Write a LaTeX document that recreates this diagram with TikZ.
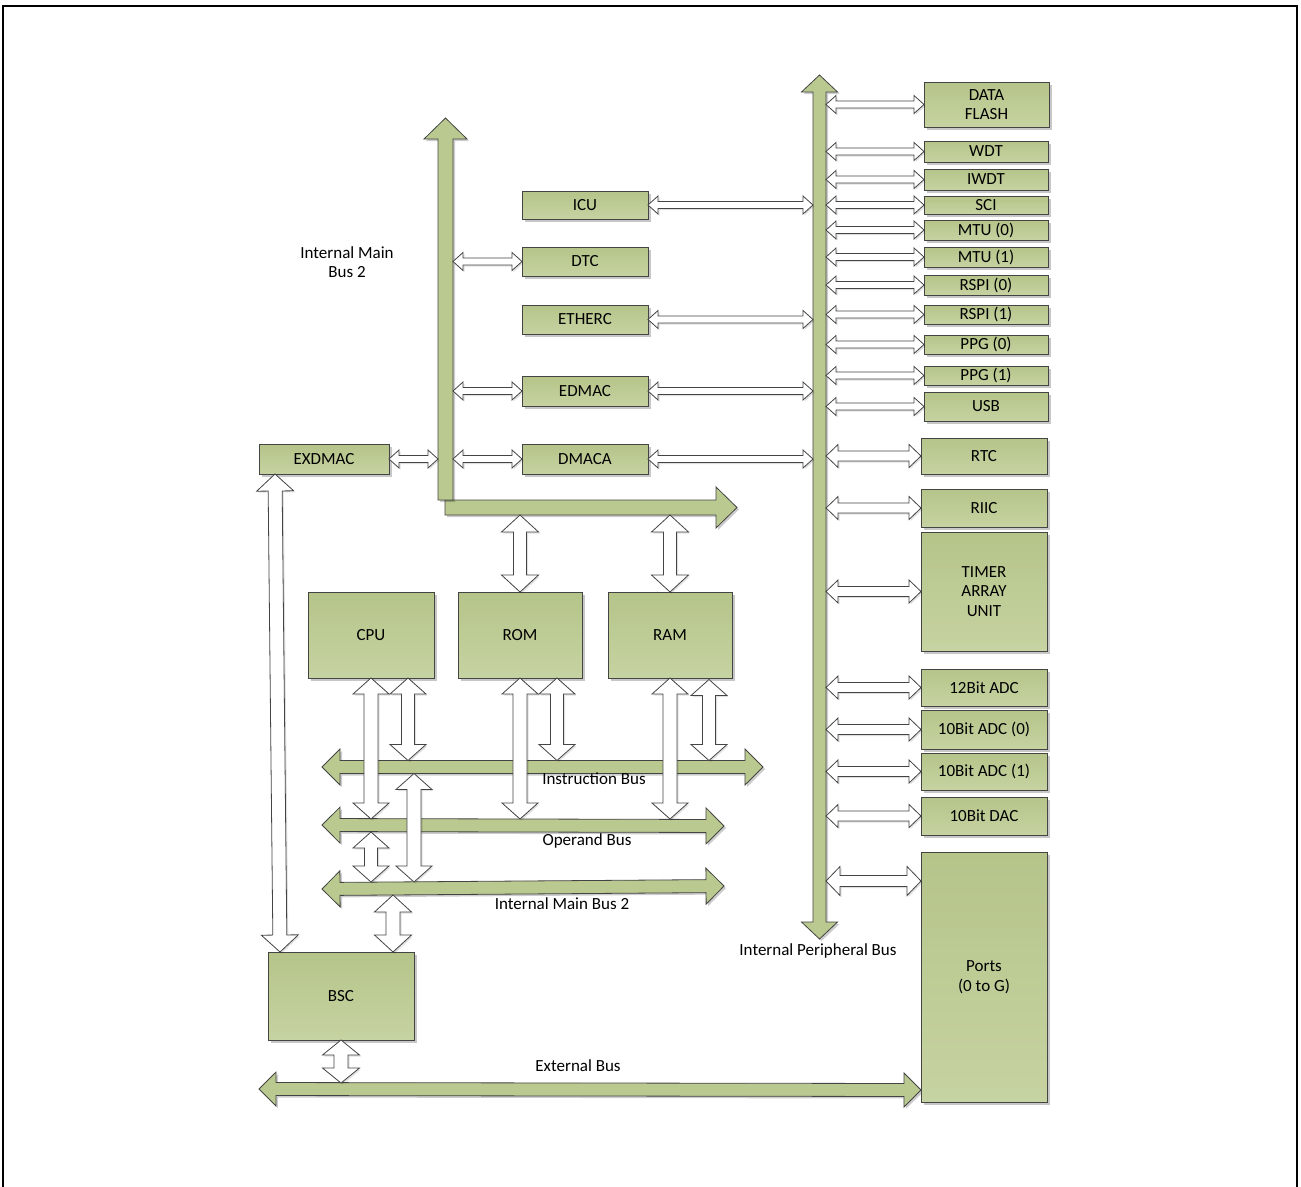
\documentclass[tikz,border=0pt]{standalone}
\usepackage{fontspec}
\setmainfont{Carlito}
\usetikzlibrary{calc,shadows}
\definecolor{bgA}{RGB}{181,196,137}
\definecolor{bgB}{RGB}{198,211,162}
\definecolor{busg}{RGB}{186,201,143}
\definecolor{edgec}{RGB}{68,68,68}
\newcommand\dar[6]{%
  \coordinate (dA) at (#2); \coordinate (dB) at (#3);
  \coordinate (dP) at ($(dA)!#6!(dB)$);
  \coordinate (dQ) at ($(dB)!#6!(dA)$);
  \filldraw[#1] (dA) -- ($(dP)!#5!90:(dB)$) -- ($(dP)!#4!90:(dB)$) -- ($(dQ)!#4!-90:(dA)$) -- ($(dQ)!#5!-90:(dA)$) -- (dB) -- ($(dQ)!#5!90:(dA)$) -- ($(dQ)!#4!90:(dA)$) -- ($(dP)!#4!-90:(dB)$) -- ($(dP)!#5!-90:(dB)$) -- cycle;}
\newcommand\sar[6]{%
  \coordinate (dA) at (#2); \coordinate (dB) at (#3);
  \coordinate (dQ) at ($(dB)!#6!(dA)$);
  \filldraw[#1] ($(dA)!#4!90:(dB)$) -- ($(dQ)!#4!-90:(dA)$) -- ($(dQ)!#5!-90:(dA)$) -- (dB) -- ($(dQ)!#5!90:(dA)$) -- ($(dQ)!#4!90:(dA)$) -- ($(dA)!#4!-90:(dB)$) -- cycle;}
\tikzset{
  blk/.style={draw=edgec, line width=1pt, top color=bgA, bottom color=bgB, inner sep=0pt, outer sep=0pt, align=center,
    font=\fontsize{17}{19.5}\selectfont,
    drop shadow={shadow xshift=2.5pt, shadow yshift=-2.5pt, opacity=0.22, fill=black}},
  bus/.style={fill=busg, draw=edgec, line width=0.8pt,
    drop shadow={shadow xshift=2pt, shadow yshift=-2pt, opacity=0.2, fill=black}},
  hol/.style={fill=white, draw=edgec, line width=0.8pt,
    drop shadow={shadow xshift=1.5pt, shadow yshift=-1.5pt, opacity=0.12, fill=black}},
  lbl/.style={font=\fontsize{17}{19.5}\selectfont, inner sep=0pt, anchor=base},
}
\begin{document}
\begin{tikzpicture}[x=1pt,y=-1pt]
\useasboundingbox (0,0) rectangle (1301,1186);
\draw[line width=2.5pt] (3,1200) -- (3,6) -- (1297,6) -- (1297,1200);

% bus geometry
\coordinate (pbT) at (819.5,75);
\coordinate (pbB) at (819.5,939);
\coordinate (pbL) at (813,0);
\coordinate (pbR) at (826,0);
\coordinate (mbT) at (445.5,118);
\coordinate (mbB) at (445.5,500);
\coordinate (mbL) at (438,0);
\coordinate (mbR) at (453,0);
\coordinate (hbS) at (445,507.5);
\coordinate (hbE) at (737,507.5);
\coordinate (hbB) at (0,515);
\coordinate (insW) at (322,767);
\coordinate (insE) at (763,767);
\coordinate (insT) at (0,760.5);
\coordinate (insB) at (0,773.5);
\coordinate (opW) at (322,825);
\coordinate (opE) at (724,826);
\coordinate (opT) at (0,819);
\coordinate (opB) at (0,832);
\coordinate (m2W) at (322,889);
\coordinate (m2E) at (724,886);
\coordinate (m2T) at (0,882);
\coordinate (m2B) at (0,895);
\coordinate (exW) at (259,1089);
\coordinate (exE) at (921,1090);
\coordinate (exT) at (0,1083);

% green buses
\dar{bus}{pbT}{pbB}{6.5pt}{18pt}{17pt}
\sar{bus}{hbS}{hbE}{7.5pt}{20.5pt}{21pt}
\sar{bus}{mbB}{mbT}{7.5pt}{21.5pt}{21pt}
\dar{bus}{insW}{insE}{6.5pt}{18pt}{18pt}
\dar{bus}{opW}{opE}{6.5pt}{18pt}{18pt}
\dar{bus}{m2W}{m2E}{6.5pt}{18pt}{18pt}
\dar{bus}{exW}{exE}{6.5pt}{17pt}{17pt}

% peripheral blocks
\node[blk, minimum width=125pt, minimum height=45pt] (dataflash) at (986.5,104.5) {DATA\\FLASH};
\node[blk, minimum width=124pt, minimum height=21pt] (wdt) at (986,151.5) {WDT};
\node[blk, minimum width=124pt, minimum height=21pt] (iwdt) at (986,179.5) {IWDT};
\node[blk, minimum width=124pt, minimum height=18pt] (sci) at (986,205) {SCI};
\node[blk, minimum width=124pt, minimum height=20pt] (mtu0) at (986,230) {MTU (0)};
\node[blk, minimum width=124pt, minimum height=20pt] (mtu1) at (986,257) {MTU (1)};
\node[blk, minimum width=124pt, minimum height=20pt] (rspi0) at (986,285) {RSPI (0)};
\node[blk, minimum width=124pt, minimum height=19pt] (rspi1) at (986,314.5) {RSPI (1)};
\node[blk, minimum width=124pt, minimum height=19pt] (ppg0) at (986,344.5) {PPG (0)};
\node[blk, minimum width=124pt, minimum height=19pt] (ppg1) at (986,375.5) {PPG (1)};
\node[blk, minimum width=124pt, minimum height=29pt] (usb) at (986,406.5) {USB};
\node[blk, minimum width=126pt, minimum height=36pt] (rtc) at (984,456) {RTC};
\node[blk, minimum width=126pt, minimum height=38pt] (riic) at (984,508) {RIIC};
\node[blk, minimum width=126pt, minimum height=119pt] (timer) at (984,591.5) {TIMER\\ARRAY\\UNIT};
\node[blk, minimum width=126pt, minimum height=37pt] (adc12) at (984,687.5) {12Bit ADC};
\node[blk, minimum width=126pt, minimum height=39pt] (adc10a) at (984,729.5) {10Bit ADC (0)};
\node[blk, minimum width=126pt, minimum height=37pt] (adc10b) at (984,771.5) {10Bit ADC (1)};
\node[blk, minimum width=126pt, minimum height=38pt] (dac) at (984,816) {10Bit DAC};
\node[blk, minimum width=126pt, minimum height=250pt] (ports) at (984,977) {Ports\\(0 to G)};

% middle blocks
\node[blk, minimum width=126pt, minimum height=28pt] (icu) at (585,205) {ICU};
\node[blk, minimum width=126pt, minimum height=29pt] (dtc) at (585,261.5) {DTC};
\node[blk, minimum width=126pt, minimum height=29pt] (etherc) at (585,319.5) {ETHERC};
\node[blk, minimum width=126pt, minimum height=30pt] (edmac) at (585,391) {EDMAC};
\node[blk, minimum width=126pt, minimum height=30pt] (dmaca) at (585,459) {DMACA};
\node[blk, minimum width=130pt, minimum height=30pt] (exdmac) at (324,459) {EXDMAC};
\node[blk, minimum width=126pt, minimum height=86pt] (cpu) at (371,635) {CPU};
\node[blk, minimum width=124pt, minimum height=86pt] (rom) at (520,635) {ROM};
\node[blk, minimum width=124pt, minimum height=86pt] (ram) at (670,635) {RAM};
\node[blk, minimum width=146pt, minimum height=88pt] (bsc) at (341,996) {BSC};

% peripheral connectors
\foreach \n in {dataflash,wdt,iwdt,sci,mtu0,mtu1,rspi0,rspi1,ppg0,ppg1,usb}{
  \dar{hol}{\n.west -| pbR}{\n.west}{3.5pt}{9pt}{10pt}
}
\foreach \n in {rtc,riic,timer,adc12,adc10a,adc10b,dac}{
  \dar{hol}{\n.west -| pbR}{\n.west}{5pt}{11.5pt}{12pt}
}
\coordinate (pa) at ($(ports.north west)+(0,29)$);
\dar{hol}{pa -| pbR}{pa}{5.5pt}{14.5pt}{14pt}

% middle connectors
\foreach \n in {icu,etherc,edmac,dmaca}{
  \dar{hol}{\n.east}{\n.east -| pbL}{3.5pt}{9pt}{10pt}
}
\foreach \n in {dtc,edmac,dmaca}{
  \dar{hol}{\n.west -| mbR}{\n.west}{3.5pt}{9pt}{10pt}
}
\dar{hol}{exdmac.east}{exdmac.east -| mbL}{3.5pt}{9pt}{10pt}

% memory connectors
\dar{hol}{rom.north |- hbB}{rom.north}{6.5pt}{18.5pt}{17pt}
\dar{hol}{ram.north |- hbB}{ram.north}{6.5pt}{18.5pt}{17pt}
\dar{hol}{cpu.south}{cpu.south |- opT}{7pt}{18pt}{16pt}
\coordinate (c2) at ($(cpu.south)+(37,0)$);
\dar{hol}{c2}{c2 |- insT}{6.5pt}{18pt}{16pt}
\dar{hol}{rom.south}{rom.south |- opT}{7pt}{18pt}{16pt}
\coordinate (r2) at ($(rom.south)+(37,0)$);
\dar{hol}{r2}{r2 |- insT}{6.5pt}{18pt}{16pt}
\dar{hol}{ram.south}{ram.south |- opT}{7pt}{18pt}{16pt}
\coordinate (a2) at ($(ram.south)+(39,1.5)$);
\dar{hol}{a2}{a2 |- insT}{6.5pt}{18pt}{16pt}
\coordinate (x1) at (414,0);
\dar{hol}{x1 |- insB}{x1 |- m2T}{7pt}{18pt}{16pt}
\dar{hol}{cpu.south |- opB}{cpu.south |- m2T}{6.5pt}{18pt}{16pt}
\coordinate (b1) at ($(bsc.north)+(52,0)$);
\dar{hol}{b1 |- m2B}{b1}{7pt}{18.5pt}{17pt}
\coordinate (e1) at ($(exdmac.south)+(-49,0)$);
\coordinate (e2) at ($(bsc.north west)+(12,0)$);
\dar{hol}{e1}{e2}{7pt}{18.5pt}{17pt}
\dar{hol}{bsc.south}{bsc.south |- exT}{7pt}{18.5pt}{15pt}

% labels
\node[font=\fontsize{17}{19.5}\selectfont, align=center, inner sep=0pt] (lmb) at (347,262) {Internal Main\\Bus 2};
\node[lbl] (lins) at (594,784) {Instruction Bus};
\node[lbl] (lop) at (587,845) {Operand Bus};
\node[lbl] (lm2) at (562,909) {Internal Main Bus 2};
\node[lbl] (lpb) at (818,955) {Internal Peripheral Bus};
\node[lbl] (lex) at (578,1071) {External Bus};
\end{tikzpicture}
\end{document}
